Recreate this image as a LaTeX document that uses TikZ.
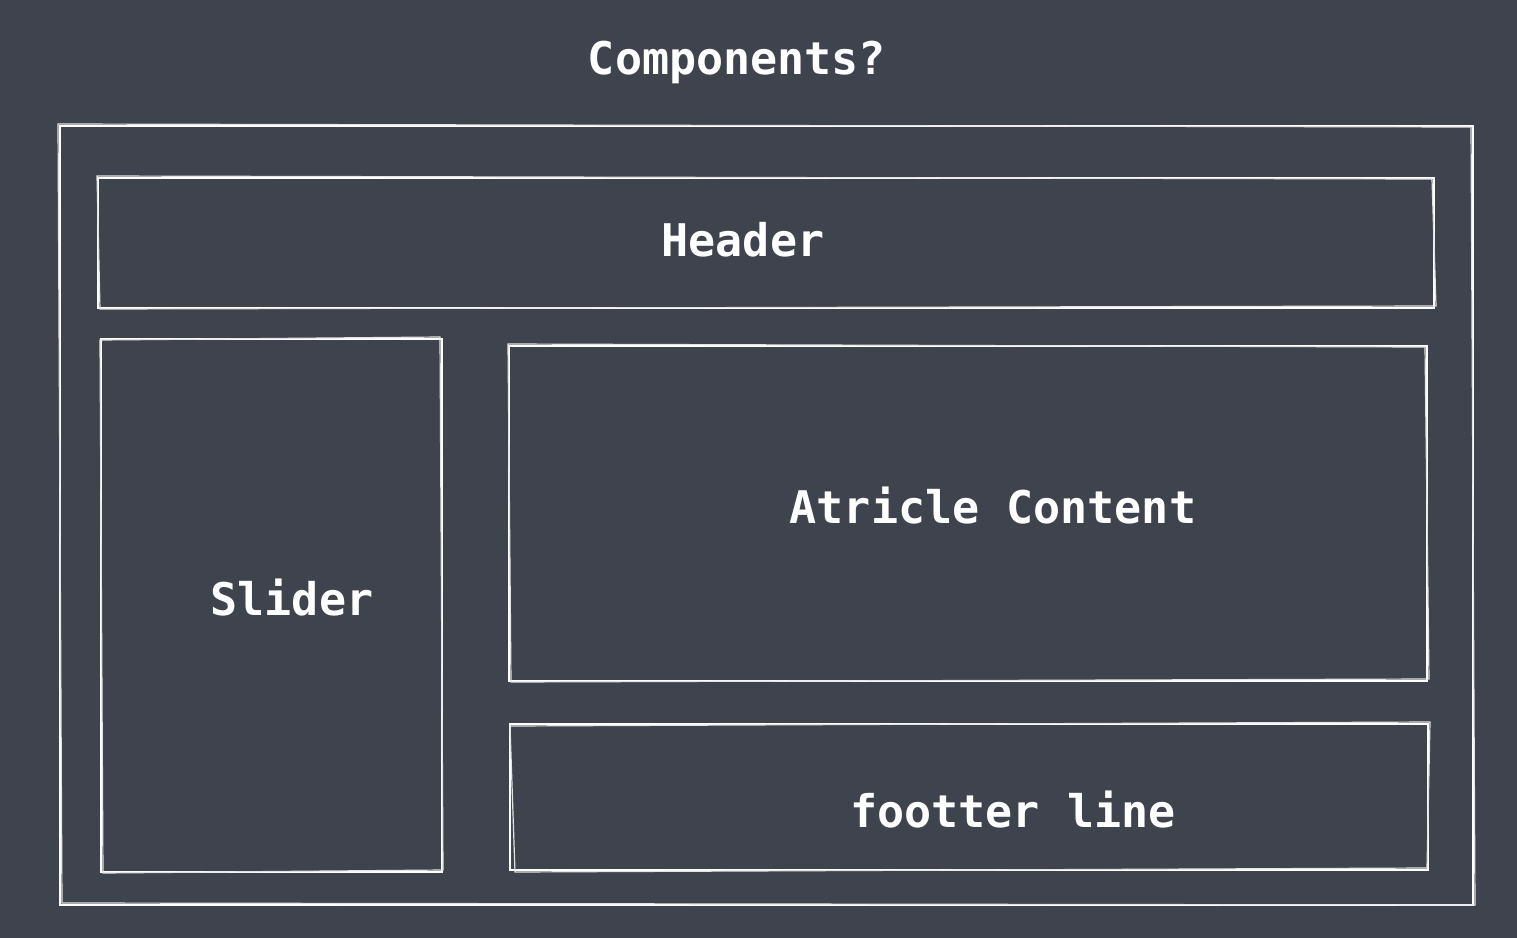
\documentclass[tikz,border=0pt]{standalone}
\usepackage{fontspec}
\setmonofont{DejaVu Sans Mono}
\definecolor{bgc}{HTML}{3F434E}
\tikzset{
  box/.style={draw=white, line width=1.3pt, inner sep=0pt, fill=none},
  sketch/.style={draw=white!85!bgc, line width=0.6pt},
  lbl/.style={text=white, font=\ttfamily\bfseries\fontsize{22.5}{26}\selectfont, inner sep=0pt}
}
\begin{document}
\begin{tikzpicture}[x=0.5pt,y=-0.5pt]
\fill[bgc] (0,0) rectangle (1517,938);
\useasboundingbox (0,0) rectangle (1517,938);
% boxes
\node[box, minimum width=706.5pt, minimum height=389.5pt] (outer) at (766.5,515.5) {};
\node[box, minimum width=668pt, minimum height=65pt] (header) at (766,243) {};
\node[box, minimum width=170.5pt, minimum height=266.5pt] (slider) at (271.5,605.5) {};
\node[box, minimum width=459pt, minimum height=167.5pt] (article) at (968,513.5) {};
\node[box, minimum width=459pt, minimum height=73pt] (footer) at (969,797) {};
% sketchy second strokes
\draw[sketch] (58,124) -- (1471,127) -- (1475,905) -- (62,903) -- cycle;
\draw[sketch] (97,176) -- (1432,179) -- (1436,306) -- (100,309) -- cycle;
\draw[sketch] (100,340) -- (440,337) -- (443,870) -- (103,873) -- cycle;
\draw[sketch] (508,344) -- (1425,347) -- (1429,679) -- (511,682) -- cycle;
\draw[sketch] (510,726) -- (1430,722) -- (1427,868) -- (515,872) -- cycle;
% labels
\node[lbl] (title) at (737,62) {Components?};
\node[lbl] (th) at (743,240) {Header};
\node[lbl] (ts) at (292,598) {Slider};
\node[lbl] (ta) at (993,506) {Atricle Content};
\node[lbl] (tf) at (1013,810) {footter line};
\end{tikzpicture}
\end{document}
